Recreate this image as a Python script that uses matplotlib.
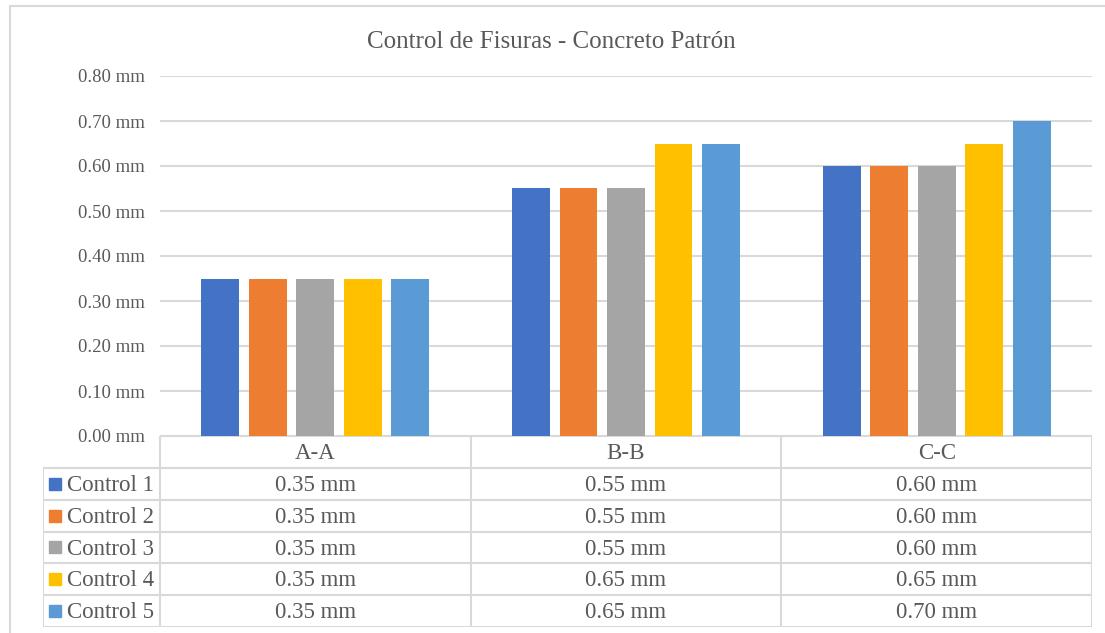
import matplotlib
matplotlib.use("Agg")
import matplotlib.pyplot as plt
from matplotlib.patches import Rectangle
from matplotlib.lines import Line2D
import numpy as np

# --- Data ---
categories = ["A-A", "B-B", "C-C"]
series_names = ["Control 1", "Control 2", "Control 3", "Control 4", "Control 5"]
control_1 = [0.35, 0.55, 0.60]
control_2 = [0.35, 0.55, 0.60]
control_3 = [0.35, 0.55, 0.60]
control_4 = [0.35, 0.65, 0.65]
control_5 = [0.35, 0.65, 0.70]
y_ticks = [0.0, 0.1, 0.2, 0.3, 0.4, 0.5, 0.6, 0.7, 0.8]

series = [control_1, control_2, control_3, control_4, control_5]
colors = ["#4472C4", "#ED7D31", "#A5A5A5", "#FFC000", "#5B9BD5"]
TXT = "#595959"
GRID = "#D9D9D9"

plt.rcParams['font.family'] = ['Liberation Serif', 'DejaVu Serif']

W, H = 1105, 633
fig = plt.figure(figsize=(W / 100, H / 100), dpi=100)

def fx(px):
    return px / W

def fy(py):
    return 1 - py / H

# outer chart border
fig.patches.append(Rectangle((fx(10), fy(700)), fx(1200), fy(6) - fy(700),
                             transform=fig.transFigure, fill=False,
                             edgecolor=GRID, linewidth=1.5))

# --- Bar axes ---
ax = fig.add_axes([fx(160), fy(436), fx(1092) - fx(160), fy(76) - fy(436)])
n = len(series)
step = 0.153
width = 0.122
x = np.arange(len(categories)) + 0.5
for i, (vals, c) in enumerate(zip(series, colors)):
    ax.bar(x + (i - (n - 1) / 2) * step, vals, width=width, color=c, zorder=3)

ax.set_xlim(0, 3)
ax.set_ylim(0, 0.8)
ax.set_yticks(y_ticks)
ax.set_yticklabels([f"{v:.2f} mm" for v in y_ticks], fontsize=13.5, color=TXT)
ax.tick_params(axis="y", length=0, pad=11)
ax.set_xticks([])
for s in ax.spines.values():
    s.set_visible(False)
ax.grid(axis="y", color=GRID, linewidth=1.5, zorder=0)

fig.text(fx(551), fy(42), "Control de Fisuras - Concreto Patrón", ha="center", va="center",
         fontsize=18, color=TXT)

# --- Data table ---
left_w = (160 - 43) / 311.0
tab = fig.add_axes([fx(43), fy(627), fx(1092) - fx(43), fy(436) - fy(627)])
tab.set_xlim(-left_w, 3)
tab.set_ylim(6, 0)
tab.axis("off")

lw = 1.5
# horizontal lines
tab.add_line(Line2D([0, 3], [0, 0], color=GRID, lw=lw))
for r in range(1, 7):
    tab.add_line(Line2D([-left_w, 3], [r, r], color=GRID, lw=lw))
# vertical lines
tab.add_line(Line2D([-left_w, -left_w], [1, 6], color=GRID, lw=lw))
for c in range(4):
    tab.add_line(Line2D([c, c], [0, 6], color=GRID, lw=lw))

for j, cat in enumerate(categories):
    tab.text(j + 0.5, 0.55, cat, ha="center", va="center", fontsize=16.5, color=TXT)

key = 12 / 311.0
for i, (name, vals, c) in enumerate(zip(series_names, series, colors)):
    row = i + 1.55
    tab.add_patch(Rectangle((-left_w + 6 / 311.0, i + 1.5 - 0.19), key, 0.38, color=c))
    tab.text(-left_w + 24 / 311.0, row, name, ha="left", va="center", fontsize=16.5, color=TXT)
    for j, v in enumerate(vals):
        tab.text(j + 0.5, row, f"{v:.2f} mm", ha="center", va="center", fontsize=16.5, color=TXT)

fig.savefig("out.png", dpi=100)
